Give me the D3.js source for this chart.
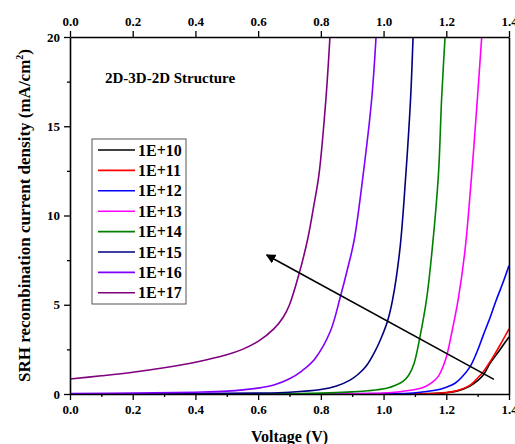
<!DOCTYPE html>
<html>
<head>
<meta charset="utf-8">
<script src="https://cdn.jsdelivr.net/npm/d3@7"></script>
<style>
  body { margin: 0; background: #fff; }
  text { font-family: "Liberation Serif", "Times New Roman", serif; font-weight: bold; }
</style>
</head>
<body>
<div id="chart"></div>
<script>
// series names and colours
var seriesNames = ["1E+10", "1E+11", "1E+12", "1E+13", "1E+14", "1E+15", "1E+16", "1E+17"];
var seriesColors = ["#000000", "#ff0000", "#0000ff", "#ff00ff", "#008000", "#000080", "#8000ff", "#800080"];

// [voltage, current density]
var s10 = [[0, 0], [1.1, 0.01], [1.169, 0.035], [1.2, 0.07], [1.233, 0.16], [1.276, 0.45], [1.3, 0.75], [1.318, 1.06], [1.339, 1.7], [1.37, 2.45], [1.4, 3.2]];
var s11 = [[0, 0], [1.1, 0.01], [1.169, 0.04], [1.2, 0.08], [1.233, 0.18], [1.276, 0.5], [1.3, 0.9], [1.318, 1.25], [1.35, 2.1], [1.375, 2.85], [1.4, 3.65]];
var s12 = [[0, 0], [1.0, 0.02], [1.095, 0.06], [1.169, 0.22], [1.2, 0.38], [1.228, 0.6], [1.25, 0.95], [1.276, 1.53], [1.3, 2.45], [1.318, 3.3], [1.34, 4.3], [1.358, 5.2], [1.38, 6.2], [1.4, 7.2]];
var s13 = [[0, 0], [0.8, 0.01], [1.0, 0.06], [1.052, 0.13], [1.1, 0.25], [1.132, 0.41], [1.155, 0.65], [1.175, 1.0], [1.199, 2.0], [1.217, 3.4], [1.238, 5.3], [1.26, 8.1], [1.281, 12.3], [1.299, 16.5], [1.313, 20]];
var s14 = [[0, 0], [0.6, 0.01], [0.8, 0.05], [0.9, 0.12], [0.95, 0.18], [1.01, 0.32], [1.04, 0.5], [1.063, 0.72], [1.08, 1.05], [1.097, 1.7], [1.116, 3.2], [1.137, 5.3], [1.155, 8.1], [1.175, 12.3], [1.185, 16.5], [1.196, 20]];
var s15 = [[0, 0], [0.4, 0.02], [0.6, 0.05], [0.7, 0.1], [0.8, 0.25], [0.85, 0.45], [0.893, 0.78], [0.92, 1.12], [0.946, 1.6], [0.97, 2.3], [0.989, 3.0], [1.012, 4.05], [1.029, 5.3], [1.052, 8.1], [1.071, 12.3], [1.086, 16.5], [1.094, 20]];
var s16 = [[0, 0.03], [0.2, 0.05], [0.4, 0.1], [0.5, 0.16], [0.6, 0.33], [0.65, 0.5], [0.7, 0.85], [0.74, 1.3], [0.78, 1.95], [0.83, 3.5], [0.863, 5.5], [0.885, 7.0], [0.906, 8.6], [0.935, 12.3], [0.962, 16.5], [0.976, 20]];
var s17 = [[0, 0.84], [0.1, 1.02], [0.2, 1.22], [0.3, 1.47], [0.4, 1.78], [0.5, 2.2], [0.55, 2.5], [0.6, 2.95], [0.65, 3.65], [0.68, 4.3], [0.7, 5.0], [0.73, 6.7], [0.757, 8.6], [0.777, 10.5], [0.794, 12.3], [0.816, 16.5], [0.829, 20]];
var seriesData = [s10, s11, s12, s13, s14, s15, s16, s17];

var xTicks = [0, 0.2, 0.4, 0.6, 0.8, 1.0, 1.2, 1.4];
var yTicks = [0, 5, 10, 15, 20];
var arrowFrom = [1.352, 0.82];
var arrowTo = [0.627, 7.79];

// set the dimensions and margins of the graph
var W = 515, H = 444;
var margin = { top: 37, right: 6, bottom: 50, left: 70 },
  width = W - margin.left - margin.right,
  height = H - margin.top - margin.bottom;

var svg = d3.select("#chart")
  .append("svg")
  .attr("width", W)
  .attr("height", H)
  .append("g")
  .attr("transform", "translate(" + margin.left + "," + margin.top + ")");

var x = d3.scaleLinear().domain([0, 1.4]).range([0, width]);
var y = d3.scaleLinear().domain([0, 20]).range([height, 0]);

svg.append("defs").append("clipPath").attr("id", "clip")
  .append("rect").attr("width", width).attr("height", height);

// curves
var line = d3.line()
  .x(function (d) { return x(d[0]); })
  .y(function (d) { return y(d[1]); })
  .curve(d3.curveCatmullRom.alpha(0.5));

svg.append("g").attr("clip-path", "url(#clip)")
  .selectAll("path")
  .data(seriesData)
  .enter()
  .append("path")
  .attr("d", line)
  .attr("fill", "none")
  .attr("stroke", function (d, i) { return seriesColors[i]; })
  .attr("stroke-width", 1.6);

// axes
function styleAxis(g) {
  g.select(".domain").attr("stroke-width", 1.6);
  g.selectAll(".tick line").attr("stroke-width", 1.3);
  g.selectAll("text").attr("font-size", 13).attr("font-family", "Liberation Serif").attr("font-weight", "bold");
}
var fmtX = d3.format(".1f");

// minor ticks
svg.append("g")
  .attr("transform", "translate(0," + height + ")")
  .call(d3.axisBottom(x).tickValues(d3.range(1, 14, 2).map(function (v) { return v / 10; })).tickSize(3).tickFormat(""))
  .call(function (g) { g.select(".domain").remove(); g.selectAll("line").attr("stroke-width", 1.3); });
svg.append("g")
  .call(d3.axisLeft(y).tickValues([2.5, 7.5, 12.5, 17.5]).tickSize(3).tickFormat(""))
  .call(function (g) { g.select(".domain").remove(); g.selectAll("line").attr("stroke-width", 1.3); });

svg.append("g")
  .attr("transform", "translate(0," + height + ")")
  .call(d3.axisBottom(x).tickValues(xTicks).tickSize(6).tickSizeOuter(0).tickFormat(fmtX).tickPadding(5))
  .call(styleAxis);
svg.append("g")
  .call(d3.axisTop(x).tickValues(xTicks).tickSize(6).tickSizeOuter(0).tickFormat(fmtX).tickPadding(5))
  .call(styleAxis);
svg.append("g")
  .call(d3.axisLeft(y).tickValues(yTicks).tickSize(6).tickSizeOuter(0).tickPadding(4))
  .call(styleAxis);
svg.append("g")
  .attr("transform", "translate(" + width + ",0)")
  .call(d3.axisRight(y).tickValues([]).tickSizeOuter(0))
  .call(styleAxis);

// axis titles
svg.append("text")
  .attr("x", width / 2)
  .attr("y", height + 48)
  .attr("text-anchor", "middle")
  .attr("font-size", 16)
  .text("Voltage (V)");

var yl = svg.append("text")
  .attr("transform", "translate(" + (-40) + "," + (height / 2) + ") rotate(-90)")
  .attr("text-anchor", "middle")
  .attr("font-size", 17);
yl.append("tspan").text("SRH recombination current density (mA/cm");
yl.append("tspan").attr("font-size", 10).attr("dy", -7).text("2");
yl.append("tspan").attr("dy", 7).text(")");

// annotation
svg.append("text")
  .attr("x", 35)
  .attr("y", 46)
  .attr("font-size", 15)
  .text("2D-3D-2D Structure");

// arrow
svg.select("defs").append("marker")
  .attr("id", "head")
  .attr("viewBox", "0 0 10 10")
  .attr("refX", 9).attr("refY", 5)
  .attr("markerWidth", 6).attr("markerHeight", 6)
  .attr("orient", "auto")
  .append("path").attr("d", "M0,0 L10,5 L0,10 Z").attr("fill", "#000");
svg.append("line")
  .attr("x1", x(arrowFrom[0])).attr("y1", y(arrowFrom[1]))
  .attr("x2", x(arrowTo[0])).attr("y2", y(arrowTo[1]))
  .attr("stroke", "#000")
  .attr("stroke-width", 1.6)
  .attr("marker-end", "url(#head)");

// legend
var legend = svg.append("g").attr("transform", "translate(22,102)");
legend.append("rect")
  .attr("width", 94).attr("height", 165)
  .attr("fill", "#fff").attr("stroke", "#555").attr("stroke-width", 1);
var item = legend.selectAll("g.item")
  .data(seriesNames)
  .enter().append("g")
  .attr("class", "item")
  .attr("transform", function (d, i) { return "translate(0," + (11 + i * 20.4) + ")"; });
item.append("line")
  .attr("x1", 6).attr("x2", 43)
  .attr("stroke", function (d, i) { return seriesColors[i]; })
  .attr("stroke-width", 1.6);
item.append("text")
  .attr("x", 46).attr("dy", "0.35em")
  .attr("font-size", 16)
  .text(function (d) { return d; });
</script>
</body>
</html>
